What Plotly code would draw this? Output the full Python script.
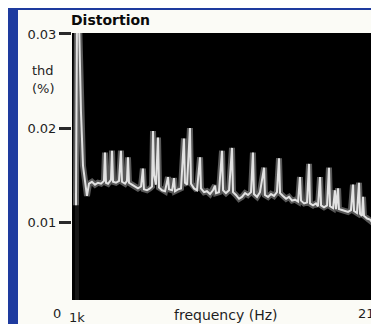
import plotly.graph_objects as go

# ---- data ----
freq_hz = [930, 1000, 1140, 1270, 1410, 1550, 1680, 1820, 2020, 2230, 2430, 2640, 2840, 2910, 2980,
           3120, 3320, 3390, 3460, 3660, 3870, 4000, 4070, 4280, 4410, 4480, 4550, 4750, 4960, 5160,
           5370, 5500, 5570, 5780, 5980, 6120, 6190, 6260, 6390, 6530, 6600, 6800, 7010, 7210, 7280,
           7490, 7620, 7690, 7890, 8100, 8300, 8370, 8510, 8710, 8780, 8990, 9190, 9400, 9460, 9670,
           9870, 10080, 10280, 10420, 10490, 10690, 10900, 10970, 11170, 11380, 11580, 11650, 11850,
           12060, 12260, 12470, 12670, 12880, 13010, 13080, 13290, 13490, 13770, 13830, 14040, 14240,
           14450, 14650, 14790, 14860, 15060, 15270, 15470, 15680, 15880, 16090, 16220, 16290, 16500,
           16700, 16840, 16900, 17110, 17310, 17450, 17590, 17660, 17860, 18070, 18200, 18270, 18480,
           18610, 18680, 18820, 18880, 19090, 19290, 19500, 19700, 19840, 19910, 20110, 20250, 20320,
           20450, 20520, 20590, 20800, 21000, 21140, 21270]
thd_pct = [0.0118, 0.0314, 0.0314, 0.0218, 0.0160, 0.0144, 0.0128, 0.0141, 0.0143, 0.0140, 0.0142,
           0.0141, 0.0144, 0.0174, 0.0142, 0.0141, 0.0145, 0.0176, 0.0143, 0.0142, 0.0144, 0.0176,
           0.0143, 0.0141, 0.0144, 0.0169, 0.0142, 0.0140, 0.0138, 0.0136, 0.0138, 0.0157, 0.0135,
           0.0134, 0.0136, 0.0138, 0.0197, 0.0150, 0.0140, 0.0190, 0.0137, 0.0134, 0.0133, 0.0148,
           0.0135, 0.0134, 0.0147, 0.0133, 0.0135, 0.0136, 0.0189, 0.0142, 0.0140, 0.0200, 0.0141,
           0.0136, 0.0134, 0.0169, 0.0136, 0.0132, 0.0133, 0.0130, 0.0134, 0.0139, 0.0131, 0.0132,
           0.0176, 0.0134, 0.0131, 0.0134, 0.0179, 0.0132, 0.0129, 0.0125, 0.0127, 0.0131, 0.0129,
           0.0132, 0.0174, 0.0130, 0.0127, 0.0132, 0.0158, 0.0129, 0.0127, 0.0130, 0.0128, 0.0132,
           0.0168, 0.0131, 0.0128, 0.0125, 0.0127, 0.0123, 0.0124, 0.0122, 0.0148, 0.0123, 0.0120,
           0.0121, 0.0162, 0.0120, 0.0118, 0.0120, 0.0117, 0.0148, 0.0118, 0.0116, 0.0118, 0.0158,
           0.0117, 0.0115, 0.0134, 0.0114, 0.0136, 0.0114, 0.0113, 0.0112, 0.0111, 0.0113, 0.0140,
           0.0112, 0.0110, 0.0142, 0.0109, 0.0107, 0.0127, 0.0107, 0.0104, 0.0103, 0.0100, 0.0101]

y_ticks = [0.01, 0.02, 0.03]
y_tick_labels = ["0.01", "0.02", "0.03"]
x_ticks = [1000, 21000]
x_tick_labels = ["1k", "21k"]
fundamental_hz = 1000

# ---- geometry (page pixels; the figure sits 8px in from the page corner) ----
OFF = 8
W, H = 363, 316
ML, MR, MT, MB = 64, 0, 25, 24
PW, PH = W - ML - MR, H - MT - MB


def px_x(p):
    return (p - OFF - ML) / PW


def px_y(p):
    return (H - MB - (p - OFF)) / PH


BLUE = "#1e3b9f"
TXT = "#1e1e1e"
FONT = "DejaVu Sans"

fig = go.Figure()

# soft glow + bright core of the measured trace
fig.add_trace(go.Scatter(x=freq_hz, y=thd_pct, mode="lines",
                         line=dict(color="rgba(175,175,175,0.5)", width=6),
                         hoverinfo="skip", showlegend=False))
fig.add_trace(go.Scatter(x=freq_hz, y=thd_pct, mode="lines",
                         line=dict(color="#e2e2e2", width=2),
                         showlegend=False))

shapes = [
    # blue frame: left strip and thin top edge
    dict(type="rect", xref="paper", yref="paper", x0=px_x(OFF), x1=px_x(18), y0=px_y(OFF + H), y1=px_y(OFF),
         fillcolor=BLUE, line=dict(width=0), layer="above"),
    dict(type="rect", xref="paper", yref="paper", x0=px_x(OFF), x1=px_x(OFF + W), y0=px_y(OFF + 2), y1=px_y(OFF),
         fillcolor=BLUE, line=dict(width=0), layer="above"),
    # faint column under the fundamental
    dict(type="line", xref="x", yref="paper", x0=fundamental_hz, x1=fundamental_hz, y0=0, y1=1,
         line=dict(color="rgba(110,110,110,0.2)", width=4), layer="below"),
]

annotations = [
    dict(text="<b>Distortion</b>", x=px_x(69), y=px_y(20), xref="paper", yref="paper",
         xanchor="left", yanchor="middle", showarrow=False,
         font=dict(family=FONT, size=14, color="#0a0a0a")),
    dict(text="thd", x=px_x(43), y=px_y(70), xref="paper", yref="paper",
         xanchor="center", yanchor="middle", showarrow=False,
         font=dict(family=FONT, size=13, color=TXT)),
    dict(text="(%)", x=px_x(43), y=px_y(89), xref="paper", yref="paper",
         xanchor="center", yanchor="middle", showarrow=False,
         font=dict(family=FONT, size=13, color=TXT)),
    dict(text="0", x=px_x(57), y=px_y(313), xref="paper", yref="paper",
         xanchor="center", yanchor="middle", showarrow=False,
         font=dict(family=FONT, size=13, color=TXT)),
    dict(text="frequency (Hz)", x=px_x(225), y=px_y(315), xref="paper", yref="paper",
         xanchor="center", yanchor="middle", showarrow=False,
         font=dict(family=FONT, size=14, color=TXT)),
]
# x tick labels placed at their tick values on the frequency axis
for val, lab, ypix in zip(x_ticks, x_tick_labels, [317, 313]):
    annotations.append(dict(text=lab, x=val, xref="x", y=px_y(ypix), yref="paper",
                            xanchor="center", yanchor="middle", showarrow=False,
                            font=dict(family=FONT, size=13, color=TXT)))

fig.update_layout(
    width=W, height=H,
    margin=dict(l=ML, r=MR, t=MT, b=MB, pad=0),
    paper_bgcolor="#fbfbf6", plot_bgcolor="#000000",
    shapes=shapes, annotations=annotations,
    xaxis=dict(range=[659, 21068], tickvals=x_ticks, showticklabels=False,
               showgrid=False, zeroline=False, showline=False, ticks=""),
    yaxis=dict(range=[0.00175, 0.0301], tickvals=y_ticks, ticktext=y_tick_labels,
               showgrid=False, zeroline=False, showline=False,
               ticks="outside", ticklen=12, tickwidth=3, tickcolor="#2a2a2a",
               tickfont=dict(family=FONT, size=13, color=TXT)),
)

fig.write_html("out.html")
